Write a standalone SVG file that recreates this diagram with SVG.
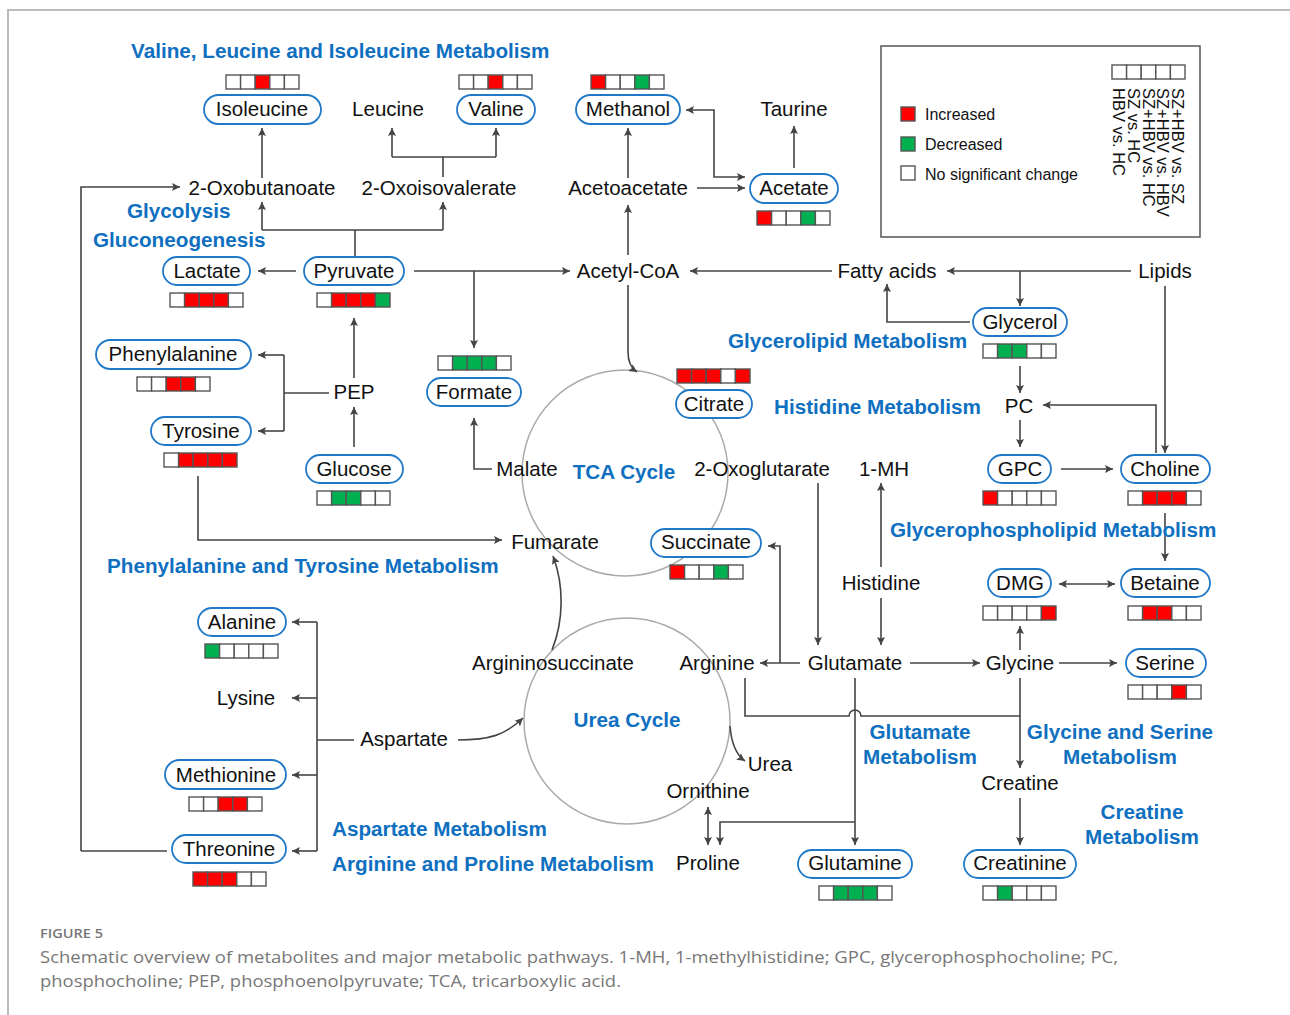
<svg xmlns="http://www.w3.org/2000/svg" width="1290" height="1015" viewBox="0 0 1290 1015">
<style>
.t{font-family:"Liberation Sans",Arial,sans-serif;font-size:20.5px;fill:#111;text-anchor:middle}
.b{font-family:"Liberation Sans",Arial,sans-serif;font-size:20.7px;font-weight:bold;fill:#0f6fc0}
.bm{text-anchor:middle}
.p{fill:#fff;stroke:#1f78c8;stroke-width:1.8}
.w{fill:#fff;stroke:#555;stroke-width:1.4}
.r{fill:#ff0000;stroke:#555;stroke-width:1.4}
.g{fill:#00b050;stroke:#555;stroke-width:1.4}
.c{fill:none;stroke:#444;stroke-width:1.6}
.ce{fill:none;stroke:#444;stroke-width:1.6;marker-end:url(#ah)}
.cd{fill:none;stroke:#444;stroke-width:1.6;marker-end:url(#ah);marker-start:url(#ah)}
.cy{fill:none;stroke:#aaa;stroke-width:1.5}
.lg{font-family:"Liberation Sans",Arial,sans-serif;font-size:16px;fill:#111}
.cap{font-family:"Open Sans","Liberation Sans",sans-serif;fill:#777}
</style>
<defs>
<marker id="ah" viewBox="0 0 10 10" refX="10" refY="5" markerWidth="9" markerHeight="8" orient="auto-start-reverse" markerUnits="userSpaceOnUse"><path d="M0,0 L10,5 L0,10 L2,5 z" fill="#444"/></marker>
</defs>
<rect width="1290" height="1015" fill="#fff"/>
<path d="M8,1015 V10 H1290" fill="none" stroke="#bbb" stroke-width="2"/>

<!-- cycles -->
<circle cx="625" cy="473" r="103" class="cy"/>
<circle cx="627" cy="721" r="103" class="cy"/>

<!-- connectors -->
<g id="connectors">
<path class="ce" d="M262,178 V128"/>
<path class="c" d="M443,177 V157 M392,157 H496"/>
<path class="ce" d="M392,157 V128"/>
<path class="ce" d="M496,157 V128"/>
<path class="c" d="M355,257 V230 M262,230 H443"/>
<path class="ce" d="M262,230 V202"/>
<path class="ce" d="M443,230 V202"/>
<path class="ce" d="M81,851 V187 H180"/>
<path class="c" d="M81,851 H167"/>
<path class="ce" d="M628,178 V128"/>
<path class="cd" d="M745,177 H714 V110 H686"/>
<path class="ce" d="M697,188 H745"/>
<path class="ce" d="M794,168 V126"/>
<path class="ce" d="M628,255 V205"/>
<path class="ce" d="M296,271 H258"/>
<path class="ce" d="M414,271 H570"/>
<path class="ce" d="M474,271 V348"/>
<path class="ce" d="M832,271 H690"/>
<path class="ce" d="M1131,271 H947"/>
<path class="ce" d="M1020,271 V306"/>
<path class="ce" d="M970,322 H887 V284"/>
<path class="ce" d="M1165,286 V453"/>
<path class="ce" d="M1156,453 V405 H1043"/>
<path class="ce" d="M628,285 V352 Q628,366 637,372"/>
<path class="ce" d="M492,469 H474 V418"/>
<path class="ce" d="M354,378 V318"/>
<path class="ce" d="M354,447 V407"/>
<path class="c" d="M329,393 H284 M284,355 V431"/>
<path class="ce" d="M284,355 H258"/>
<path class="ce" d="M284,431 H258"/>
<path class="ce" d="M198,476 V540 H502"/>
<path class="ce" d="M1020,366 V393"/>
<path class="ce" d="M1020,420 V447"/>
<path class="ce" d="M1061,469 H1113"/>
<path class="ce" d="M1165,513 V561"/>
<path class="cd" d="M1059,584 H1115"/>
<path class="ce" d="M881,567 V483"/>
<path class="ce" d="M818,483 V645"/>
<path class="ce" d="M881,598 V645"/>
<path class="ce" d="M910,663 H980"/>
<path class="ce" d="M1059,663 H1117"/>
<path class="ce" d="M1020,650 V626"/>
<path class="ce" d="M800,663 H760"/>
<path class="ce" d="M780,663 V546 H768"/>
<path class="c" d="M745,678 V716 H849 A6,6 0 0 1 861,716 H1020"/>
<path class="ce" d="M1020,678 V768"/>
<path class="ce" d="M855,678 V845"/>
<path class="ce" d="M855,822 H720 V845"/>
<path class="cd" d="M708,807 V845"/>
<path class="ce" d="M730,726 Q732,752 745,761"/>
<path class="ce" d="M552,650 C564,620 564,585 553,556"/>
<path class="ce" d="M458,740 C490,740 505,735 523,718"/>
<path class="c" d="M354,740 H317 M317,622 V851"/>
<path class="ce" d="M317,622 H292"/>
<path class="ce" d="M317,698 H292"/>
<path class="ce" d="M317,775 H292"/>
<path class="ce" d="M317,851 H292"/>
<path class="ce" d="M1020,798 V845"/>
</g>

<!-- pathway labels -->
<g id="labels">
<text class="b" x="131" y="58">Valine, Leucine and Isoleucine Metabolism</text>
<text class="b" x="127" y="218">Glycolysis</text>
<text class="b" x="93" y="247">Gluconeogenesis</text>
<text class="b" x="728" y="348">Glycerolipid Metabolism</text>
<text class="b" x="774" y="414">Histidine Metabolism</text>
<text class="b bm" x="624" y="479">TCA Cycle</text>
<text class="b" x="890" y="537">Glycerophospholipid Metabolism</text>
<text class="b" x="107" y="573">Phenylalanine and Tyrosine Metabolism</text>
<text class="b bm" x="627" y="727">Urea Cycle</text>
<text class="b bm" x="920" y="739">Glutamate</text>
<text class="b bm" x="920" y="764">Metabolism</text>
<text class="b bm" x="1120" y="739">Glycine and Serine</text>
<text class="b bm" x="1120" y="764">Metabolism</text>
<text class="b bm" x="1142" y="819">Creatine</text>
<text class="b bm" x="1142" y="844">Metabolism</text>
<text class="b" x="332" y="836">Aspartate Metabolism</text>
<text class="b" x="332" y="871">Arginine and Proline Metabolism</text>
</g>

<!-- nodes -->
<g id="isoleucine"><rect class="p" x="204" y="95" width="117" height="29" rx="14.5"/><text class="t" x="262" y="116">Isoleucine</text>
<g transform="translate(226,75)"><rect class="w" x="0" width="14.6" height="14"/><rect class="w" x="14.6" width="14.6" height="14"/><rect class="r" x="29.2" width="14.6" height="14"/><rect class="w" x="43.8" width="14.6" height="14"/><rect class="w" x="58.4" width="14.6" height="14"/></g></g>
<g id="leucine"><text class="t" x="388" y="116">Leucine</text></g>
<g id="valine"><rect class="p" x="457" y="95" width="78" height="29" rx="14.5"/><text class="t" x="496" y="116">Valine</text>
<g transform="translate(459,75)"><rect class="w" x="0" width="14.6" height="14"/><rect class="w" x="14.6" width="14.6" height="14"/><rect class="r" x="29.2" width="14.6" height="14"/><rect class="w" x="43.8" width="14.6" height="14"/><rect class="w" x="58.4" width="14.6" height="14"/></g></g>
<g id="methanol"><rect class="p" x="576" y="95" width="104" height="29" rx="14.5"/><text class="t" x="628" y="116">Methanol</text>
<g transform="translate(591,75)"><rect class="r" x="0" width="14.6" height="14"/><rect class="w" x="14.6" width="14.6" height="14"/><rect class="w" x="29.2" width="14.6" height="14"/><rect class="g" x="43.8" width="14.6" height="14"/><rect class="w" x="58.4" width="14.6" height="14"/></g></g>
<g id="taurine"><text class="t" x="794" y="116">Taurine</text></g>
<g id="oxobutanoate"><text class="t" x="262" y="195">2-Oxobutanoate</text></g>
<g id="oxoisovalerate"><text class="t" x="439" y="195">2-Oxoisovalerate</text></g>
<g id="acetoacetate"><text class="t" x="628" y="195">Acetoacetate</text></g>
<g id="acetate"><rect class="p" x="750" y="174" width="88" height="29" rx="14.5"/><text class="t" x="794" y="195">Acetate</text>
<g transform="translate(757,211)"><rect class="r" x="0" width="14.6" height="14"/><rect class="w" x="14.6" width="14.6" height="14"/><rect class="w" x="29.2" width="14.6" height="14"/><rect class="g" x="43.8" width="14.6" height="14"/><rect class="w" x="58.4" width="14.6" height="14"/></g></g>
<g id="lactate"><rect class="p" x="163" y="257" width="87" height="28" rx="14"/><text class="t" x="207" y="278">Lactate</text>
<g transform="translate(170,293)"><rect class="w" x="0" width="14.6" height="14"/><rect class="r" x="14.6" width="14.6" height="14"/><rect class="r" x="29.2" width="14.6" height="14"/><rect class="r" x="43.8" width="14.6" height="14"/><rect class="w" x="58.4" width="14.6" height="14"/></g></g>
<g id="pyruvate"><rect class="p" x="304" y="257" width="100" height="28" rx="14"/><text class="t" x="354" y="278">Pyruvate</text>
<g transform="translate(317,293)"><rect class="w" x="0" width="14.6" height="14"/><rect class="r" x="14.6" width="14.6" height="14"/><rect class="r" x="29.2" width="14.6" height="14"/><rect class="r" x="43.8" width="14.6" height="14"/><rect class="g" x="58.4" width="14.6" height="14"/></g></g>
<g id="acetylcoa"><text class="t" x="628" y="278">Acetyl-CoA</text></g>
<g id="fattyacids"><text class="t" x="887" y="278">Fatty acids</text></g>
<g id="lipids"><text class="t" x="1165" y="278">Lipids</text></g>
<g id="glycerol"><rect class="p" x="973" y="308" width="94" height="28" rx="14"/><text class="t" x="1020" y="329">Glycerol</text>
<g transform="translate(983,344)"><rect class="w" x="0" width="14.6" height="14"/><rect class="g" x="14.6" width="14.6" height="14"/><rect class="g" x="29.2" width="14.6" height="14"/><rect class="w" x="43.8" width="14.6" height="14"/><rect class="w" x="58.4" width="14.6" height="14"/></g></g>
<g id="phenylalanine"><rect class="p" x="96" y="340" width="155" height="29" rx="14.5"/><text class="t" x="173" y="361">Phenylalanine</text>
<g transform="translate(137,377)"><rect class="w" x="0" width="14.6" height="14"/><rect class="w" x="14.6" width="14.6" height="14"/><rect class="r" x="29.2" width="14.6" height="14"/><rect class="r" x="43.8" width="14.6" height="14"/><rect class="w" x="58.4" width="14.6" height="14"/></g></g>
<g id="pep"><text class="t" x="354" y="399">PEP</text></g>
<g id="formate"><rect class="p" x="427" y="378" width="94" height="28" rx="14"/><text class="t" x="474" y="399">Formate</text>
<g transform="translate(438,356)"><rect class="w" x="0" width="14.6" height="14"/><rect class="g" x="14.6" width="14.6" height="14"/><rect class="g" x="29.2" width="14.6" height="14"/><rect class="g" x="43.8" width="14.6" height="14"/><rect class="w" x="58.4" width="14.6" height="14"/></g></g>
<g id="citrate"><rect class="p" x="676" y="390" width="76" height="28" rx="14"/><text class="t" x="714" y="411">Citrate</text>
<g transform="translate(677,369)"><rect class="r" x="0" width="14.6" height="14"/><rect class="r" x="14.6" width="14.6" height="14"/><rect class="r" x="29.2" width="14.6" height="14"/><rect class="w" x="43.8" width="14.6" height="14"/><rect class="r" x="58.4" width="14.6" height="14"/></g></g>
<g id="pc"><text class="t" x="1019" y="413">PC</text></g>
<g id="tyrosine"><rect class="p" x="151" y="417" width="100" height="28" rx="14"/><text class="t" x="201" y="438">Tyrosine</text>
<g transform="translate(164,453)"><rect class="w" x="0" width="14.6" height="14"/><rect class="r" x="14.6" width="14.6" height="14"/><rect class="r" x="29.2" width="14.6" height="14"/><rect class="r" x="43.8" width="14.6" height="14"/><rect class="r" x="58.4" width="14.6" height="14"/></g></g>
<g id="glucose"><rect class="p" x="306" y="455" width="97" height="28" rx="14"/><text class="t" x="354" y="476">Glucose</text>
<g transform="translate(317,491)"><rect class="w" x="0" width="14.6" height="14"/><rect class="g" x="14.6" width="14.6" height="14"/><rect class="g" x="29.2" width="14.6" height="14"/><rect class="w" x="43.8" width="14.6" height="14"/><rect class="w" x="58.4" width="14.6" height="14"/></g></g>
<g id="malate"><text class="t" x="527" y="476">Malate</text></g>
<g id="oxoglutarate"><text class="t" x="762" y="476">2-Oxoglutarate</text></g>
<g id="onemh"><text class="t" x="884" y="476">1-MH</text></g>
<g id="gpc"><rect class="p" x="988" y="455" width="63" height="28" rx="14"/><text class="t" x="1020" y="476">GPC</text>
<g transform="translate(983,491)"><rect class="r" x="0" width="14.6" height="14"/><rect class="w" x="14.6" width="14.6" height="14"/><rect class="w" x="29.2" width="14.6" height="14"/><rect class="w" x="43.8" width="14.6" height="14"/><rect class="w" x="58.4" width="14.6" height="14"/></g></g>
<g id="choline"><rect class="p" x="1121" y="455" width="89" height="28" rx="14"/><text class="t" x="1165" y="476">Choline</text>
<g transform="translate(1128,491)"><rect class="w" x="0" width="14.6" height="14"/><rect class="r" x="14.6" width="14.6" height="14"/><rect class="r" x="29.2" width="14.6" height="14"/><rect class="r" x="43.8" width="14.6" height="14"/><rect class="w" x="58.4" width="14.6" height="14"/></g></g>
<g id="fumarate"><text class="t" x="555" y="549">Fumarate</text></g>
<g id="succinate"><rect class="p" x="651" y="529" width="110" height="28" rx="14"/><text class="t" x="706" y="549">Succinate</text>
<g transform="translate(670,565)"><rect class="r" x="0" width="14.6" height="14"/><rect class="w" x="14.6" width="14.6" height="14"/><rect class="w" x="29.2" width="14.6" height="14"/><rect class="g" x="43.8" width="14.6" height="14"/><rect class="w" x="58.4" width="14.6" height="14"/></g></g>
<g id="histidine"><text class="t" x="881" y="590">Histidine</text></g>
<g id="dmg"><rect class="p" x="988" y="569" width="63" height="28" rx="14"/><text class="t" x="1020" y="590">DMG</text>
<g transform="translate(983,606)"><rect class="w" x="0" width="14.6" height="14"/><rect class="w" x="14.6" width="14.6" height="14"/><rect class="w" x="29.2" width="14.6" height="14"/><rect class="w" x="43.8" width="14.6" height="14"/><rect class="r" x="58.4" width="14.6" height="14"/></g></g>
<g id="betaine"><rect class="p" x="1121" y="569" width="89" height="28" rx="14"/><text class="t" x="1165" y="590">Betaine</text>
<g transform="translate(1128,606)"><rect class="w" x="0" width="14.6" height="14"/><rect class="r" x="14.6" width="14.6" height="14"/><rect class="r" x="29.2" width="14.6" height="14"/><rect class="w" x="43.8" width="14.6" height="14"/><rect class="w" x="58.4" width="14.6" height="14"/></g></g>
<g id="alanine"><rect class="p" x="198" y="608" width="88" height="28" rx="14"/><text class="t" x="242" y="629">Alanine</text>
<g transform="translate(205,644)"><rect class="g" x="0" width="14.6" height="14"/><rect class="w" x="14.6" width="14.6" height="14"/><rect class="w" x="29.2" width="14.6" height="14"/><rect class="w" x="43.8" width="14.6" height="14"/><rect class="w" x="58.4" width="14.6" height="14"/></g></g>
<g id="argininosuccinate"><text class="t" x="553" y="670">Argininosuccinate</text></g>
<g id="arginine"><text class="t" x="717" y="670">Arginine</text></g>
<g id="glutamate"><text class="t" x="855" y="670">Glutamate</text></g>
<g id="glycine"><text class="t" x="1020" y="670">Glycine</text></g>
<g id="serine"><rect class="p" x="1126" y="649" width="80" height="28" rx="14"/><text class="t" x="1165" y="670">Serine</text>
<g transform="translate(1128,685)"><rect class="w" x="0" width="14.6" height="14"/><rect class="w" x="14.6" width="14.6" height="14"/><rect class="w" x="29.2" width="14.6" height="14"/><rect class="r" x="43.8" width="14.6" height="14"/><rect class="w" x="58.4" width="14.6" height="14"/></g></g>
<g id="lysine"><text class="t" x="246" y="705">Lysine</text></g>
<g id="aspartate"><text class="t" x="404" y="746">Aspartate</text></g>
<g id="urea"><text class="t" x="770" y="771">Urea</text></g>
<g id="methionine"><rect class="p" x="165" y="760" width="121" height="29" rx="14.5"/><text class="t" x="226" y="782">Methionine</text>
<g transform="translate(189,797)"><rect class="w" x="0" width="14.6" height="14"/><rect class="w" x="14.6" width="14.6" height="14"/><rect class="r" x="29.2" width="14.6" height="14"/><rect class="r" x="43.8" width="14.6" height="14"/><rect class="w" x="58.4" width="14.6" height="14"/></g></g>
<g id="creatine"><text class="t" x="1020" y="790">Creatine</text></g>
<g id="ornithine"><text class="t" x="708" y="798">Ornithine</text></g>
<g id="threonine"><rect class="p" x="172" y="835" width="114" height="28" rx="14"/><text class="t" x="229" y="856">Threonine</text>
<g transform="translate(193,872)"><rect class="r" x="0" width="14.6" height="14"/><rect class="r" x="14.6" width="14.6" height="14"/><rect class="r" x="29.2" width="14.6" height="14"/><rect class="w" x="43.8" width="14.6" height="14"/><rect class="w" x="58.4" width="14.6" height="14"/></g></g>
<g id="proline"><text class="t" x="708" y="870">Proline</text></g>
<g id="glutamine"><rect class="p" x="798" y="850" width="114" height="28" rx="14"/><text class="t" x="855" y="870">Glutamine</text>
<g transform="translate(819,886)"><rect class="w" x="0" width="14.6" height="14"/><rect class="g" x="14.6" width="14.6" height="14"/><rect class="g" x="29.2" width="14.6" height="14"/><rect class="g" x="43.8" width="14.6" height="14"/><rect class="w" x="58.4" width="14.6" height="14"/></g></g>
<g id="creatinine"><rect class="p" x="964" y="850" width="112" height="28" rx="14"/><text class="t" x="1020" y="870">Creatinine</text>
<g transform="translate(983,886)"><rect class="w" x="0" width="14.6" height="14"/><rect class="g" x="14.6" width="14.6" height="14"/><rect class="w" x="29.2" width="14.6" height="14"/><rect class="w" x="43.8" width="14.6" height="14"/><rect class="w" x="58.4" width="14.6" height="14"/></g></g>

<!-- legend -->
<g id="legend">
<rect x="881" y="46" width="319" height="191" fill="none" stroke="#555" stroke-width="1.5"/>
<rect class="r" x="901" y="107" width="14" height="14" stroke="#222"/>
<text class="lg" x="925" y="120">Increased</text>
<rect class="g" x="901" y="137" width="14" height="14" stroke="#222"/>
<text class="lg" x="925" y="150">Decreased</text>
<rect class="w" x="901" y="166" width="14" height="14"/>
<text class="lg" x="925" y="180">No significant change</text>
<g transform="translate(1112,65)"><rect class="w" x="0" width="14.6" height="14"/><rect class="w" x="14.6" width="14.6" height="14"/><rect class="w" x="29.2" width="14.6" height="14"/><rect class="w" x="43.8" width="14.6" height="14"/><rect class="w" x="58.4" width="14.6" height="14"/></g>
<text class="lg" transform="translate(1172,88) rotate(90)" style="font-size:16.5px">SZ+HBV vs. SZ</text>
<text class="lg" transform="translate(1157,88) rotate(90)" style="font-size:16.5px">SZ+HBV vs. HBV</text>
<text class="lg" transform="translate(1142.5,88) rotate(90)" style="font-size:16.5px">SZ+HBV vs. HC</text>
<text class="lg" transform="translate(1128,88) rotate(90)" style="font-size:16.5px">SZ vs. HC</text>
<text class="lg" transform="translate(1113,88) rotate(90)" style="font-size:16.5px">HBV vs. HC</text>
</g>

<!-- caption -->
<g id="caption">
<text class="cap" x="40" y="938" style="font-size:13px;font-weight:600" textLength="63" lengthAdjust="spacingAndGlyphs">FIGURE 5</text>
<text class="cap" x="40" y="963" style="font-size:17px" textLength="1078" lengthAdjust="spacingAndGlyphs">Schematic overview of metabolites and major metabolic pathways. 1-MH, 1-methylhistidine; GPC, glycerophosphocholine; PC,</text>
<text class="cap" x="40" y="987" style="font-size:17px" textLength="581" lengthAdjust="spacingAndGlyphs">phosphocholine; PEP, phosphoenolpyruvate; TCA, tricarboxylic acid.</text>
</g>
</svg>
